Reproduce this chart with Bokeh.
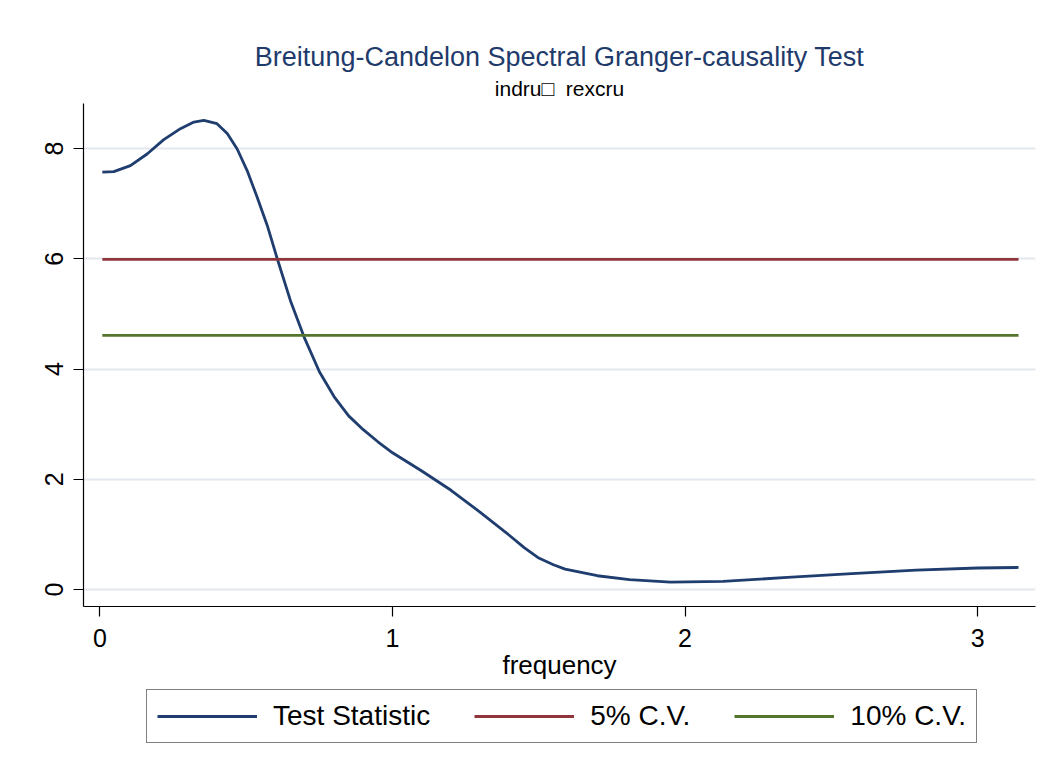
from bokeh.plotting import figure
from bokeh.layouts import column
from bokeh.models import Range1d, Title, Legend, LegendItem, FixedTicker, ColumnDataSource
from bokeh.embed import file_html
from bokeh.resources import INLINE

# ---- data ----
frequency = [0.008, 0.047, 0.104, 0.161, 0.218, 0.275, 0.321, 0.355, 0.40, 0.435,
             0.469, 0.503, 0.537, 0.572, 0.606, 0.651, 0.70, 0.75, 0.80, 0.85,
             0.90, 0.95, 1.00, 1.10, 1.20, 1.30, 1.40, 1.45, 1.50, 1.55, 1.59, 1.70,
             1.81, 1.95, 2.13, 2.35, 2.57, 2.79, 3.00, 3.14]
test_stat = [7.57, 7.58, 7.69, 7.90, 8.16, 8.36, 8.48, 8.51, 8.45, 8.27,
             7.99, 7.60, 7.12, 6.60, 6.00, 5.24, 4.55, 3.95, 3.50, 3.15,
             2.90, 2.68, 2.48, 2.15, 1.80, 1.40, 0.98, 0.76, 0.57, 0.45, 0.37, 0.25,
             0.18, 0.135, 0.147, 0.22, 0.29, 0.35, 0.39, 0.40]
cv5 = [5.99] * len(frequency)
cv10 = [4.61] * len(frequency)
x_ticks = [0, 1, 2, 3]
y_ticks = [0, 2, 4, 6, 8]
series_names = ["Test Statistic", "5% C.V.", "10% C.V."]
series_colors = ["#1f3d6e", "#90353b", "#55752f"]

FONT = "Liberation Sans"

src = ColumnDataSource(dict(x=frequency, ts=test_stat, cv5=cv5, cv10=cv10))

plot = figure(frame_width=952, frame_height=503, output_backend="svg", toolbar_location=None,
              x_range=Range1d(-0.0564, 3.198), y_range=Range1d(-0.308, 8.816),
              min_border_left=83, min_border_right=7, min_border_top=103, min_border_bottom=82)
plot.background_fill_color = "white"
plot.border_fill_color = "white"
plot.outline_line_color = None

plot.line("x", "ts", source=src, line_color=series_colors[0], line_width=2.8)
plot.line("x", "cv5", source=src, line_color=series_colors[1], line_width=2.8)
plot.line("x", "cv10", source=src, line_color=series_colors[2], line_width=2.8)

# axes
plot.xaxis.ticker = FixedTicker(ticks=x_ticks)
plot.yaxis.ticker = FixedTicker(ticks=y_ticks)
for ax in (plot.xaxis[0], plot.yaxis[0]):
    ax.axis_line_color = "black"
    ax.axis_line_width = 1.2
    ax.major_tick_line_color = "black"
    ax.major_tick_line_width = 1.2
    ax.major_tick_out = 10
    ax.major_tick_in = 0
    ax.minor_tick_line_color = None
    ax.major_label_text_font = FONT
    ax.major_label_text_font_size = "25px"
    ax.major_label_text_color = "black"
plot.yaxis.major_label_orientation = "vertical"
plot.yaxis.major_label_standoff = 10
plot.xaxis.major_label_standoff = 12
plot.xaxis.axis_label = "frequency"
plot.xaxis.axis_label_text_font = FONT
plot.xaxis.axis_label_text_font_size = "26px"
plot.xaxis.axis_label_text_font_style = "normal"
plot.xaxis.axis_label_text_color = "black"
plot.xaxis.axis_label_standoff = 0

plot.xgrid.grid_line_color = None
plot.ygrid.grid_line_color = "#e3e7f0"
plot.ygrid.grid_line_width = 2

# titles
plot.title = None
sub = Title(text="indru\u25a1\u00a0\u00a0rexcru", align="center", text_font=FONT,
            text_font_size="21px", text_font_style="normal", text_color="black",
            standoff=7)
plot.add_layout(sub, "above")
main = Title(text="Breitung-Candelon Spectral Granger-causality Test", align="center",
             text_font=FONT, text_font_size="27px", text_font_style="normal",
             text_color="#1f3b6b", standoff=0)
plot.add_layout(main, "above")

# legend strip (separate figure below the plot; frames are aligned by the column)
leg = figure(width=1042, height=80, output_backend="svg", toolbar_location=None,
             x_range=Range1d(-20, -19), y_range=Range1d(-20, -19),
             x_axis_type=None, y_axis_type=None,
             min_border_left=0, min_border_right=0, min_border_top=0, min_border_bottom=0)
leg.outline_line_color = None
leg.grid.grid_line_color = None
leg.background_fill_color = "white"
leg.border_fill_color = "white"
l1 = leg.line("x", "ts", source=src, line_color=series_colors[0], line_width=2.8)
l2 = leg.line("x", "cv5", source=src, line_color=series_colors[1], line_width=2.8)
l3 = leg.line("x", "cv10", source=src, line_color=series_colors[2], line_width=2.8)

legend = Legend(items=[LegendItem(label=series_names[0], renderers=[l1]),
                       LegendItem(label=series_names[1], renderers=[l2]),
                       LegendItem(label=series_names[2], renderers=[l3])],
                orientation="horizontal", location=(63, 25))
legend.label_text_font = FONT
legend.label_text_font_size = "28px"
legend.label_text_color = "black"
legend.glyph_width = 100
legend.glyph_height = 24
legend.label_standoff = 16
legend.spacing = 44
legend.padding = 10
legend.margin = 0
legend.border_line_color = "black"
legend.border_line_width = 1.2
legend.background_fill_color = "white"
leg.add_layout(legend, "center")

p = column(plot, leg, spacing=0)

open("out.html", "w").write(file_html(p, INLINE))
